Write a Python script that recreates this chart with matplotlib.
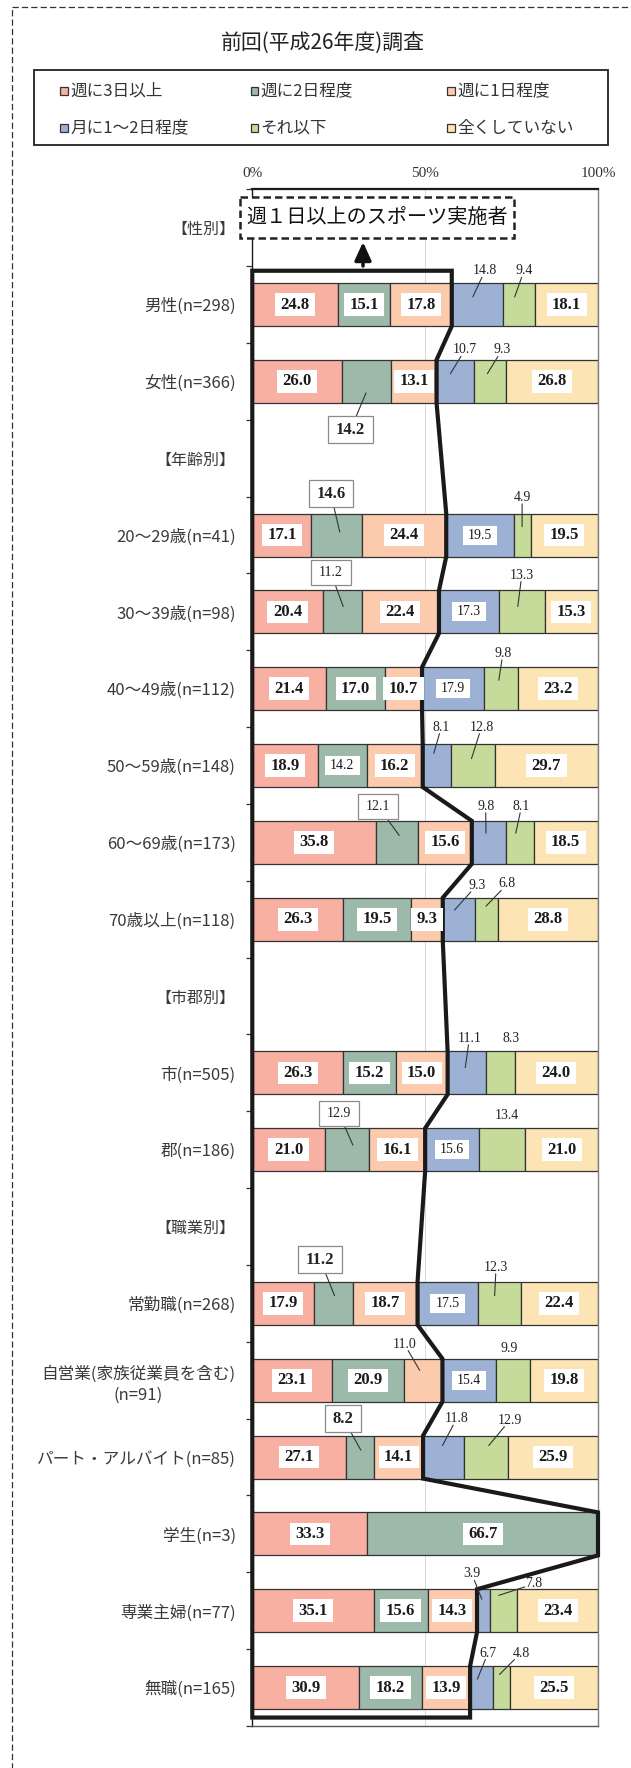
import numpy as np
import matplotlib
matplotlib.use('Agg')
import matplotlib.pyplot as plt
from matplotlib.patches import Rectangle, Polygon
from matplotlib.path import Path

plt.rcParams['font.family'] = ['Noto Sans CJK JP', 'DejaVu Sans']

# ---------------- data ----------------
title = '前回(平成26年度)調査'
callout_text = '週１日以上のスポーツ実施者'
categories = ['【性別】', '男性(n=298)', '女性(n=366)', '【年齢別】',
              '20〜29歳(n=41)', '30〜39歳(n=98)', '40〜49歳(n=112)',
              '50〜59歳(n=148)', '60〜69歳(n=173)', '70歳以上(n=118)',
              '【市郡別】', '市(n=505)', '郡(n=186)', '【職業別】',
              '常勤職(n=268)', '自営業(家族従業員を含む)\n(n=91)',
              'パート・アルバイト(n=85)', '学生(n=3)', '専業主婦(n=77)',
              '無職(n=165)']
series_names = ['週に3日以上', '週に2日程度', '週に1日程度',
                '月に1〜2日程度', 'それ以下', '全くしていない']
nan = np.nan
s1 = [nan, 24.8, 26.0, nan, 17.1, 20.4, 21.4, 18.9, 35.8, 26.3, nan, 26.3, 21.0, nan, 17.9, 23.1, 27.1, 33.3, 35.1, 30.9]
s2 = [nan, 15.1, 14.2, nan, 14.6, 11.2, 17.0, 14.2, 12.1, 19.5, nan, 15.2, 12.9, nan, 11.2, 20.9, 8.2, 66.7, 15.6, 18.2]
s3 = [nan, 17.8, 13.1, nan, 24.4, 22.4, 10.7, 16.2, 15.6, 9.3, nan, 15.0, 16.1, nan, 18.7, 11.0, 14.1, 0.0, 14.3, 13.9]
s4 = [nan, 14.8, 10.7, nan, 19.5, 17.3, 17.9, 8.1, 9.8, 9.3, nan, 11.1, 15.6, nan, 17.5, 15.4, 11.8, 0.0, 3.9, 6.7]
s5 = [nan, 9.4, 9.3, nan, 4.9, 13.3, 9.8, 12.8, 8.1, 6.8, nan, 8.3, 13.4, nan, 12.3, 9.9, 12.9, 0.0, 7.8, 4.8]
s6 = [nan, 18.1, 26.8, nan, 19.5, 15.3, 23.2, 29.7, 18.5, 28.8, nan, 24.0, 21.0, nan, 22.4, 19.8, 25.9, 0.0, 23.4, 25.5]
tick_vals = [0, 50, 100]
tick_labels = ['0%', '50%', '100%']

colors = ['#F8B0A2', '#9DB9A9', '#FCCBAE', '#9CB1D4', '#C6DA9A', '#FCE4B4']

# label placement styles: small inside labels
small_inside = {(4, 3), (5, 3), (6, 3), (7, 1), (12, 3), (14, 3), (15, 3)}
# outside labels: (row, series): (kind, label dx, label dy, end dx, end dy, leader)
outside = {
    (1, 3): ('out', 2.2, -0.44, -1.3, -0.10, True),
    (1, 4): ('out', 1.4, -0.44, -1.3, -0.10, True),
    (2, 3): ('out', 2.85, -0.41, -1.35, -0.10, True),
    (2, 4): ('out', 3.55, -0.41, -0.65, -0.10, True),
    (2, 1): ('box', -4.7, 0.63, -0.2, 0.15, True),
    (4, 1): ('box', -1.7, -0.54, 0.9, -0.04, True),
    (4, 4): ('out', 0.0, -0.49, 0.0, -0.11, True),
    (5, 1): ('boxs', -3.3, -0.51, 0.3, -0.07, True),
    (5, 4): ('out', 0.0, -0.48, -1.15, -0.07, True),
    (6, 4): ('out', 0.6, -0.46, -0.6, -0.11, True),
    (7, 3): ('out', 1.35, -0.50, -0.85, -0.16, True),
    (7, 4): ('out', 2.5, -0.50, -0.4, -0.09, True),
    (8, 1): ('boxs', -5.45, -0.47, 0.65, -0.09, True),
    (8, 3): ('out', -0.9, -0.47, -0.8, -0.12, True),
    (8, 4): ('out', 0.55, -0.47, -1.15, -0.12, True),
    (9, 3): ('out', 5.15, -0.44, -1.25, -0.12, True),
    (9, 4): ('out', 6.0, -0.46, -0.2, -0.17, True),
    (11, 3): ('out', 0.75, -0.45, -0.45, -0.07, True),
    (11, 4): ('out', 3.05, -0.45, 0, 0, False),
    (12, 1): ('boxs', -2.35, -0.47, 1.65, -0.06, True),
    (12, 4): ('out', 1.3, -0.45, 0, 0, False),
    (14, 1): ('box', -3.9, -0.57, 0.3, -0.10, True),
    (14, 4): ('out', -0.95, -0.47, -1.35, -0.10, True),
    (15, 2): ('out', -5.5, -0.47, -1.1, -0.13, True),
    (15, 4): ('out', -1.15, -0.41, 0, 0, False),
    (16, 1): ('box', -4.9, -0.50, 0.2, -0.09, True),
    (16, 3): ('out', 3.8, -0.50, -0.3, -0.15, True),
    (16, 4): ('out', 6.85, -0.48, 0.75, -0.15, True),
    (18, 3): ('out', -3.45, -0.48, -0.55, -0.15, True),
    (18, 4): ('out', 8.7, -0.35, -1.5, -0.20, True),
    (19, 3): ('out', 1.85, -0.45, -1.25, -0.11, True),
    (19, 4): ('out', 5.6, -0.45, -0.6, -0.17, True),
}


def make_box(padx, pady):
    def box(x0, y0, width, height, mutation_size):
        px = padx * mutation_size
        py = pady * mutation_size
        xa, ya = x0 - px, y0 - py
        xb, yb = x0 + width + px, y0 + height + py
        return Path([(xa, ya), (xb, ya), (xb, yb), (xa, yb), (xa, ya)], closed=True)
    return box


W, H = 631, 1768
fig = plt.figure(figsize=(W / 100, H / 100), dpi=100)
ax_l, ax_r, ax_t, ax_b = 252.3, 598.0, 189.3, 1726.0
ax = fig.add_axes([ax_l / W, 1 - ax_b / H, (ax_r - ax_l) / W, (ax_b - ax_t) / H])

vals = np.array([s1, s2, s3, s4, s5, s6], dtype=float)
v0 = np.nan_to_num(vals)
starts = np.vstack([np.zeros(vals.shape[1]), np.cumsum(v0, axis=0)[:-1]])
n = len(categories)
y = np.arange(n)
bar_h = 0.56
data_rows = [i for i in range(n) if not np.isnan(vals[0, i])]

for k in range(6):
    m = (~np.isnan(vals[k])) & (v0[k] > 0)
    ax.barh(y[m], v0[k][m], left=starts[k][m], height=bar_h, color=colors[k],
            edgecolor='#333333', linewidth=0.9, zorder=2)

ax.axvline(50, color='#d9d9d9', lw=0.7, zorder=1)

num_font = 'Liberation Serif'
for i in data_rows:
    for k in range(6):
        v = v0[k, i]
        if v <= 0:
            continue
        cx = starts[k, i] + v / 2
        txt = f'{v:.1f}'
        key = (i, k)
        if key in outside:
            kind, ldx, ldy, edx, edy, leader = outside[key]
            lx, ly = cx + ldx, i + ldy
            weight = 'normal'
            if kind == 'out':
                fs = 10
                bbox = dict(boxstyle=make_box(0.05, 0.0), fc='none', ec='none')
            elif kind == 'box':
                fs = 12
                weight = 'bold'
                bbox = dict(boxstyle=make_box(0.45, 0.33), fc='white', ec='#8a8a8a', lw=0.9)
            else:
                fs = 10
                bbox = dict(boxstyle=make_box(0.57, 0.42), fc='white', ec='#8a8a8a', lw=0.9)
            if leader:
                ax.annotate(txt, xy=(cx + edx, i + edy), xytext=(lx, ly),
                            ha='center', va='center', fontsize=fs, family=num_font,
                            fontweight=weight,
                            color='#222222', bbox=bbox, zorder=6,
                            annotation_clip=False,
                            arrowprops=dict(arrowstyle='-', color='#333333', lw=0.8,
                                            shrinkA=0, shrinkB=0))
            else:
                ax.text(lx, ly, txt, ha='center', va='center', fontsize=fs,
                        family=num_font, fontweight=weight, color='#222222',
                        bbox=bbox, zorder=6)
        else:
            small = key in small_inside
            fs = 10 if small else 12
            ax.text(cx, i, txt, ha='center', va='center', fontsize=fs,
                    family=num_font, color='#1a1a1a',
                    fontweight='normal' if small else 'bold',
                    bbox=dict(boxstyle=make_box(0.33 if not small else 0.38,
                                                0.2 if not small else 0.22),
                              fc='white', ec='none'), zorder=6)

# thick frame around "weekly or more" share
s_week = v0[:3].sum(axis=0)
verts = [(0, data_rows[0] - 0.44)]
for j, i in enumerate(data_rows):
    top = i - 0.44 if j == 0 else i - bar_h / 2
    bot = i + 0.39 if j == len(data_rows) - 1 else i + bar_h / 2
    verts.append((s_week[i], top))
    verts.append((s_week[i], bot))
verts.append((0, data_rows[-1] + 0.39))
ax.add_patch(Polygon(verts, closed=True, fill=False, ec='#1a1a1a', lw=3.0,
                     joinstyle='miter', clip_on=False, zorder=4))

ax.set_xlim(0, 100)
ax.set_ylim(n - 0.5, -0.5)
ax.xaxis.tick_top()
ax.set_xticks(tick_vals)
ax.set_xticklabels(tick_labels, family=num_font, fontsize=11, color='#333333')
ax.tick_params(axis='x', length=0, pad=7)
ax.set_yticks(y)
ax.set_yticklabels(categories, fontsize=12, color='#3a3a3a')
ax.set_yticks(np.arange(-0.5, n, 1), minor=True)
ax.tick_params(axis='y', which='major', length=0, pad=12)
ax.tick_params(axis='y', which='minor', length=4.5, width=0.9, color='#333333')
for i, lbl in enumerate(ax.get_yticklabels()):
    if categories[i].startswith('【'):
        lbl.set_fontsize(11.5)
    if '\n' in categories[i]:
        lbl.set_multialignment('center')
        lbl.set_linespacing(1.35)

ax.spines['top'].set_color('#1a1a1a')
ax.spines['top'].set_linewidth(1.6)
ax.spines['left'].set_color('#1a1a1a')
ax.spines['left'].set_linewidth(1.0)
ax.spines['right'].set_color('#808080')
ax.spines['right'].set_linewidth(1.0)
ax.spines['bottom'].set_color('#555555')
ax.spines['bottom'].set_linewidth(1.0)

# ---------------- overlay in pixel coordinates ----------------
ov = fig.add_axes([0, 0, 1, 1])
ov.set_xlim(0, W)
ov.set_ylim(H, 0)
ov.axis('off')
ov.set_zorder(5)
ov.patch.set_alpha(0)

ov.add_patch(Rectangle((12, 7.3), 700, 1850, fill=False, ec='#333333', lw=0.9,
                       ls=(0, (5, 2.5))))
ov.text(323, 43, title, ha='center', va='center', fontsize=15, color='#222222')

# legend
ov.add_patch(Rectangle((34, 70), 574, 75, fill=False, ec='#222222', lw=1.3))
col_x = [64, 254.5, 451]
row_y = [90.7, 128]
for k, name in enumerate(series_names):
    cx = col_x[k % 3]
    cy = row_y[k // 3]
    ov.add_patch(Rectangle((cx - 3.8, cy - 3.8), 7.6, 7.6, fc=colors[k], ec='#333333', lw=0.9))
    ov.text(cx + 6, cy, name, ha='left', va='center', fontsize=12, color='#333333')

# callout box and arrow
ov.add_patch(Rectangle((240, 196.7), 274, 41.6, fc='white', ec='#222222', lw=1.8,
                       ls=(0, (3, 1.6)), zorder=3))
ov.text(377, 217.5, callout_text, ha='center', va='center', fontsize=14.5,
        color='#111111', zorder=4)
ov.annotate('', xy=(363, 242), xytext=(363, 266),
            arrowprops=dict(arrowstyle='-|>,head_width=0.25,head_length=0.55',
                            mutation_scale=20, lw=2.5, color='#111111',
                            shrinkA=0, shrinkB=0))

fig.savefig('out.png', dpi=100)
